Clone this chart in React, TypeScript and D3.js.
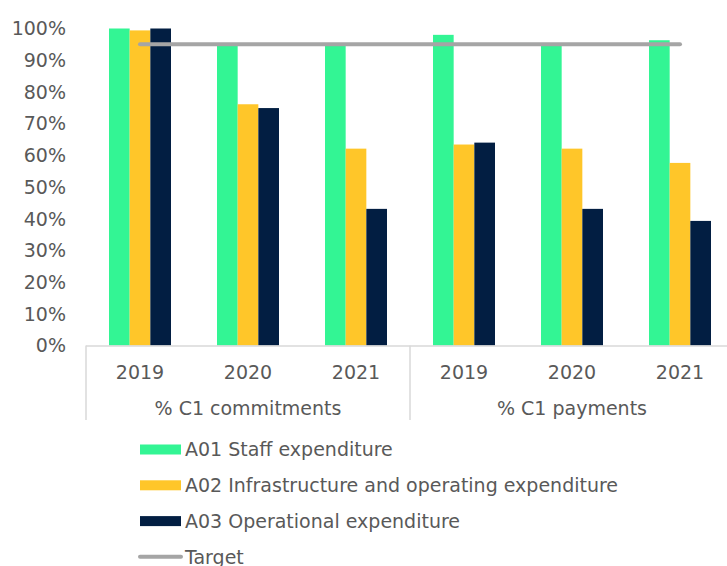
import React from "react";
import * as d3 from "d3";

const categories = ["2019", "2020", "2021", "2019", "2020", "2021"];
const groupLabels = ["% C1 commitments", "% C1 payments"];
const seriesNames = [
  "A01 Staff expenditure",
  "A02 Infrastructure and operating expenditure",
  "A03 Operational expenditure",
];
const staff = [1.0, 0.95, 0.95, 0.98, 0.95, 0.963];
const infra = [0.994, 0.761, 0.621, 0.634, 0.621, 0.576];
const operational = [1.0, 0.749, 0.431, 0.64, 0.431, 0.393];
const target = [0.95, 0.95, 0.95, 0.95, 0.95, 0.95];
const targetName = "Target";
const yTicks = [0, 0.1, 0.2, 0.3, 0.4, 0.5, 0.6, 0.7, 0.8, 0.9, 1.0];

const colors = ["#33F594", "#FFC629", "#021E42"];
const targetColor = "#A5A5A5";
const textColor = "#595959";
const axisColor = "#D9D9D9";
const font = "'DejaVu Sans', Verdana, sans-serif";
const fs = 19;

export default function App() {
  const W = 727;
  const H = 566;
  const series = [staff, infra, operational];
  const idx = categories.map((_, i) => i);

  const x0 = d3.scaleBand<number>().domain(idx).range([86, 734]).padding(0);
  const step = x0.bandwidth();
  const inner = 62;
  const x1 = d3
    .scaleBand<number>()
    .domain([0, 1, 2])
    .range([(step - inner) / 2, (step + inner) / 2]);
  const y = d3.scaleLinear().domain([0, 1]).range([345.5, 28.5]);
  const fmt = d3.format(".0%");
  const baseY = y(0);

  const targetLine = d3
    .line<number>()
    .x((_, i) => (x0(i) as number) + step / 2)
    .y((d) => y(d));

  const groupSize = 3;
  const legendY = [449.5, 485.3, 521.1, 556.7];

  return (
    <svg
      width={W}
      height={H}
      style={{ position: "absolute", left: 0, top: 0, background: "#fff" }}
      fontFamily={font}
    >
      {yTicks.map((t) => (
        <text
          key={t}
          x={66}
          y={y(t)}
          dy="0.36em"
          textAnchor="end"
          fontSize={fs}
          fill={textColor}
        >
          {fmt(t)}
        </text>
      ))}

      {series.map((vals, s) =>
        vals.map((v, i) => (
          <rect
            key={`${s}-${i}`}
            x={(x0(i) as number) + (x1(s) as number)}
            y={y(v)}
            width={x1.bandwidth()}
            height={baseY - y(v)}
            fill={colors[s]}
          />
        ))
      )}

      <line x1={86} x2={734} y1={baseY + 0.5} y2={baseY + 0.5} stroke={axisColor} strokeWidth={1.5} />
      {[0, 1, 2].map((g) => {
        const xv = g < 2 ? (x0(g * groupSize) as number) : 734;
        return (
          <line
            key={g}
            x1={xv}
            x2={xv}
            y1={baseY}
            y2={420}
            stroke={axisColor}
            strokeWidth={1.5}
          />
        );
      })}

      {categories.map((c, i) => (
        <text
          key={i}
          x={(x0(i) as number) + step / 2}
          y={372}
          dy="0.36em"
          textAnchor="middle"
          fontSize={fs}
          fill={textColor}
        >
          {c}
        </text>
      ))}
      {groupLabels.map((g, gi) => (
        <text
          key={g}
          x={(x0(gi * groupSize) as number) + (step * groupSize) / 2}
          y={408}
          dy="0.36em"
          textAnchor="middle"
          fontSize={fs}
          fill={textColor}
        >
          {g}
        </text>
      ))}

      <path
        d={targetLine(target) || ""}
        fill="none"
        stroke={targetColor}
        strokeWidth={4}
        strokeLinecap="round"
      />

      {seriesNames.map((n, s) => (
        <g key={n}>
          <rect x={140} y={legendY[s] - 5} width={41} height={10} fill={colors[s]} />
          <text x={185} y={legendY[s]} dy="0.36em" fontSize={fs} fill={textColor}>
            {n}
          </text>
        </g>
      ))}
      <line
        x1={140}
        x2={181}
        y1={legendY[3]}
        y2={legendY[3]}
        stroke={targetColor}
        strokeWidth={4}
        strokeLinecap="round"
      />
      <text x={185} y={legendY[3]} dy="0.36em" fontSize={fs} fill={textColor}>
        {targetName}
      </text>
    </svg>
  );
}
